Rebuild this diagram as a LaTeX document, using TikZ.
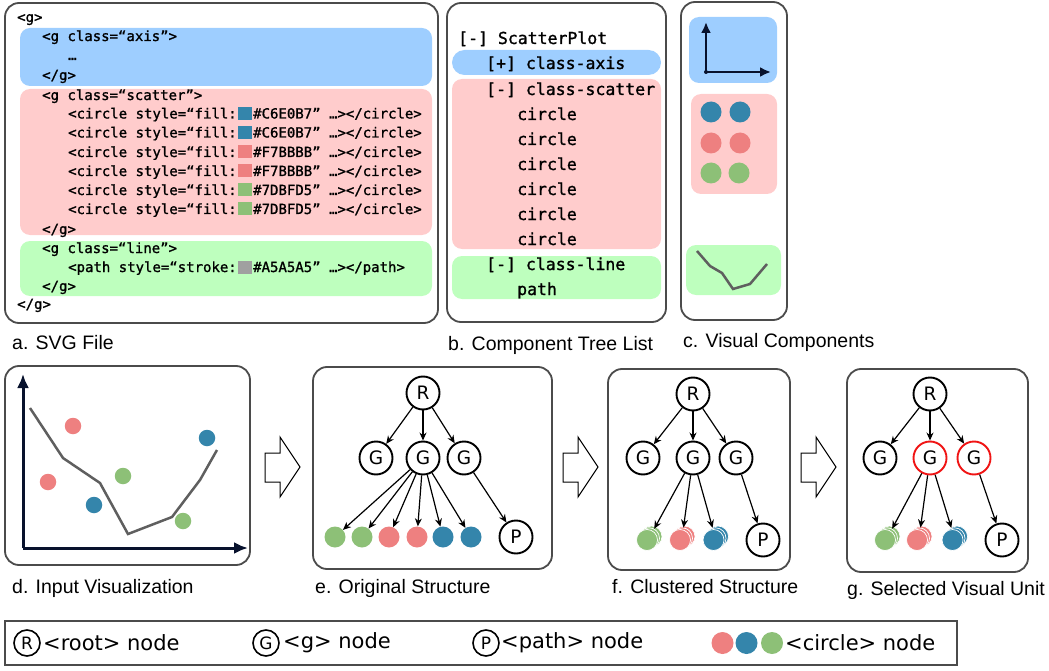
\documentclass[tikz,border=0pt]{standalone}
\usepackage{fontspec}
\setmainfont{Liberation Sans}
\newfontfamily\codefont[FakeBold=1.2]{DejaVu Sans Mono}
\newfontfamily\labelfont{DejaVu Sans}
\usetikzlibrary{arrows.meta}

\definecolor{axisblue}{RGB}{158,206,255}
\definecolor{scatterpink}{RGB}{255,204,204}
\definecolor{linegreen}{RGB}{190,255,190}
\definecolor{dotblue}{RGB}{52,133,171}
\definecolor{dotred}{RGB}{238,128,128}
\definecolor{dotgreen}{RGB}{141,192,119}
\definecolor{swgray}{RGB}{160,160,160}
\definecolor{framegray}{RGB}{75,75,75}
\definecolor{axisnavy}{RGB}{8,18,45}
\definecolor{polygray}{RGB}{95,95,95}
\definecolor{selred}{RGB}{240,20,20}

\begin{document}
\begin{tikzpicture}[x=1pt,y=-1pt,
  panel/.style={draw=framegray, line width=1.8pt, rounded corners=14pt},
  band/.style={rounded corners=10pt},
  codeA/.style={anchor=base west, inner sep=0pt, font=\codefont\fontsize{14}{14}\selectfont},
  codeB/.style={anchor=base west, inner sep=0pt, font=\codefont\fontsize{16.5}{16.5}\selectfont},
  caption/.style={anchor=west, inner sep=0pt, font=\fontsize{19.5}{19.5}\selectfont},
  legtext/.style={anchor=west, inner sep=0pt, font=\labelfont\fontsize{21}{21}\selectfont},
  tnode/.style={circle, draw, line width=1.9pt, minimum size=33pt, inner sep=0pt, fill=white,
    font=\labelfont\fontsize{18.5}{18.5}\selectfont},
  selnode/.style={tnode, draw=selred},
  legnode/.style={circle, draw, line width=1.6pt, minimum size=26pt, inner sep=0pt,
    font=\labelfont\fontsize{17}{17}\selectfont},
  dot/.style={circle, fill=#1, minimum size=21pt, inner sep=0pt},
  smalldot/.style={circle, fill=#1, minimum size=16.5pt, inner sep=0pt},
  layer/.style={circle, fill=#1, draw=white, line width=0.7pt, minimum size=21pt, inner sep=0pt},
  edge/.style={-{Stealth[length=8pt,width=7pt]}, line width=1.2pt},
  hollow/.style={draw=black, line width=1pt, fill=white},
  plotaxis/.style={draw=axisnavy, line width=3pt, -{Latex[length=14pt,width=12pt]}},
  smallaxis/.style={draw=axisnavy, line width=2.3pt, line cap=round, -{Latex[length=11pt,width=10pt]}},
  polyline/.style={draw=polygray, line width=2.5pt},
]
\useasboundingbox (0,0) rectangle (1049,671);

% ---------------- a. SVG file ----------------
\draw[panel] (5,3) rectangle (438,323);
\fill[axisblue, band] (20,28) rectangle (432,86);
\fill[scatterpink, band] (20,89) rectangle (432,235);
\fill[linegreen, band] (20,241) rectangle (432,296);

\node[codeA] (a0) at (17,22) {<g>};
\node[codeA] (a1) at (42,41) {<g class=“axis”>};
\node[codeA] (a2) at (68,60) {…};
\node[codeA] (a3) at (42,80) {</g>};
\node[codeA] (a4) at (42,100) {<g class=“scatter”>};

\node[codeA] (c1p) at (68,118.5) {<circle style=“fill:};
\fill[dotblue] (238.3,107) rectangle (251.7,120);
\node[codeA] (c1h) at (253,118.5) {\#C6E0B7” …></circle>};
\node[codeA] (c2p) at (68,137.5) {<circle style=“fill:};
\fill[dotblue] (238.3,126) rectangle (251.7,139);
\node[codeA] (c2h) at (253,137.5) {\#C6E0B7” …></circle>};
\node[codeA] (c3p) at (68,157) {<circle style=“fill:};
\fill[dotred] (238.3,145.5) rectangle (251.7,158.5);
\node[codeA] (c3h) at (253,157) {\#F7BBBB” …></circle>};
\node[codeA] (c4p) at (68,176) {<circle style=“fill:};
\fill[dotred] (238.3,164.5) rectangle (251.7,177.5);
\node[codeA] (c4h) at (253,176) {\#F7BBBB” …></circle>};
\node[codeA] (c5p) at (68,195) {<circle style=“fill:};
\fill[dotgreen] (238.3,183.5) rectangle (251.7,196.5);
\node[codeA] (c5h) at (253,195) {\#7DBFD5” …></circle>};
\node[codeA] (c6p) at (68,214) {<circle style=“fill:};
\fill[dotgreen] (238.3,202.5) rectangle (251.7,215.5);
\node[codeA] (c6h) at (253,214) {\#7DBFD5” …></circle>};

\node[codeA] (a11) at (42,234) {</g>};
\node[codeA] (a12) at (42,253) {<g class=“line”>};
\node[codeA] (pp) at (68,272) {<path style=“stroke:};
\fill[swgray] (238.3,260.5) rectangle (251.7,273.5);
\node[codeA] (ph) at (253,272) {\#A5A5A5” …></path>};
\node[codeA] (a14) at (42,291) {</g>};
\node[codeA] (a15) at (17,309) {</g>};

\node[caption] (capa) at (12,343) {a. SVG File};

% ---------------- b. component tree list ----------------
\draw[panel] (447,3) rectangle (666,322);
\fill[axisblue, rounded corners=12.5pt] (452,50) rectangle (661,75);
\fill[scatterpink, band] (452,79) rectangle (661,249);
\fill[linegreen, band] (452,256) rectangle (661,299);

\node[codeB] (b0) at (458,44) {[-] ScatterPlot};
\node[codeB] (b1) at (486,69) {[+] class-axis};
\node[codeB] (b2) at (486,95) {[-] class-scatter};
\node[codeB] (b3) at (517,120) {circle};
\node[codeB] (b4) at (517,145) {circle};
\node[codeB] (b5) at (517,170) {circle};
\node[codeB] (b6) at (517,195) {circle};
\node[codeB] (b7) at (517,220) {circle};
\node[codeB] (b8) at (517,245) {circle};
\node[codeB] (b9) at (486,270) {[-] class-line};
\node[codeB] (b10) at (517,295) {path};

\node[caption] (capb) at (448,345) {b. Component Tree List};

% ---------------- c. visual components ----------------
\draw[panel] (681,2) rectangle (787,320);
\fill[axisblue, band] (689,17) rectangle (777,83);
\fill[scatterpink, band] (691,94) rectangle (777,194);
\fill[linegreen, band] (686,245) rectangle (781,295);

\coordinate (cO) at (706,72);
\coordinate (cY) at (706,22);
\coordinate (cX) at (771,72);
\draw[smallaxis] (cO) -- (cY);
\draw[smallaxis] (cO) -- (cX);
\fill[axisnavy] (cO) circle (2pt);

\node[dot=dotblue] (vb1) at (711,112) {};
\node[dot=dotblue] (vb2) at (740,112) {};
\node[dot=dotred] (vr1) at (711,143) {};
\node[dot=dotred] (vr2) at (740,143) {};
\node[dot=dotgreen] (vg1) at (711,173) {};
\node[dot=dotgreen] (vg2) at (739,173) {};

\draw[polyline] (697,251) -- (710,266) -- (722,273) -- (733,289) -- (750,284) -- (767,264);

\node[caption] (capc) at (683,342) {c. Visual Components};

% ---------------- d. input visualization ----------------
\draw[panel] (5,366) rectangle (250,565);
\coordinate (dO) at (23,548);
\coordinate (dY) at (23,374);
\coordinate (dX) at (248,548);
\draw[plotaxis] (dO) -- (dY);
\draw[plotaxis] (dO) -- (dX);
\draw[polyline] (30,408) -- (63,458) -- (100,483) -- (128,534) -- (172,517) -- (200,480) -- (217,450);
\node[smalldot=dotred] (dr1) at (73,426) {};
\node[smalldot=dotred] (dr2) at (48,482) {};
\node[smalldot=dotblue] (db1) at (94,505) {};
\node[smalldot=dotgreen] (dg1) at (123,476) {};
\node[smalldot=dotblue] (db2) at (207,438) {};
\node[smalldot=dotgreen] (dg2) at (183,521) {};

\node[caption] (capd) at (12,588) {d. Input Visualization};

% ---------------- step arrows ----------------
\foreach \x in {265,563,801} {
  \draw[hollow] (\x,453) -- (\x+15,453) -- (\x+15,437) -- (\x+35,467)
    -- (\x+15,497) -- (\x+15,482) -- (\x,482) -- cycle;
}

% ---------------- e. original structure ----------------
\draw[panel] (313,367) rectangle (552,569);
\node[tnode] (eR) at (423,393) {R};
\node[tnode] (eG1) at (376,458) {G};
\node[tnode] (eG2) at (423,458) {G};
\node[tnode] (eG3) at (464,458) {G};
\node[dot=dotgreen] (ec1) at (335,537) {};
\node[dot=dotgreen] (ec2) at (362,537) {};
\node[dot=dotred] (ec3) at (389,537) {};
\node[dot=dotred] (ec4) at (417,537) {};
\node[dot=dotblue] (ec5) at (443,537) {};
\node[dot=dotblue] (ec6) at (471,537) {};
\node[tnode] (eP) at (516,537) {P};
\draw[edge] (eR) -- (eG1);
\draw[edge] (eR) -- (eG2);
\draw[edge] (eR) -- (eG3);
\foreach \c in {ec1,ec2,ec3,ec4,ec5,ec6} { \draw[edge] (eG2) -- (\c); }
\draw[edge] (eG3) -- (eP);

\node[caption] (cape) at (315,588) {e. Original Structure};

% ---------------- f. clustered structure ----------------
\draw[panel] (608,369) rectangle (790,570);
\node[tnode] (fR) at (693,394) {R};
\node[tnode] (fG1) at (643,458) {G};
\node[tnode] (fG2) at (693,458) {G};
\node[tnode] (fG3) at (736,458) {G};
\node[layer=dotgreen] (fgb) at (651.5,536.5) {};
\node[layer=dotgreen] (fgm) at (649,538.3) {};
\node[layer=dotgreen] (fg) at (647,540) {};
\node[layer=dotred] (frb) at (684.5,536.5) {};
\node[layer=dotred] (frm) at (682,538.3) {};
\node[layer=dotred] (fr) at (680,540) {};
\node[layer=dotblue] (fbb) at (718,536.5) {};
\node[layer=dotblue] (fbm) at (715.5,538.3) {};
\node[layer=dotblue] (fb) at (713.5,540) {};
\node[tnode] (fP) at (763,540) {P};
\draw[edge] (fR) -- (fG1);
\draw[edge] (fR) -- (fG2);
\draw[edge] (fR) -- (fG3);
\draw[edge] (fG2) -- (fgm);
\draw[edge] (fG2) -- (frm);
\draw[edge] (fG2) -- (fbm);
\draw[edge] (fG3) -- (fP);

\node[caption] (capf) at (612,587) {f. Clustered Structure};

% ---------------- g. selected visual unit ----------------
\draw[panel] (847,369) rectangle (1028,572);
\node[tnode] (gR) at (930,394) {R};
\node[tnode] (gG1) at (880,458) {G};
\node[selnode] (gG2) at (930,458) {G};
\node[selnode] (gG3) at (974,458) {G};
\node[layer=dotgreen] (ggb) at (889.5,536.5) {};
\node[layer=dotgreen] (ggm) at (887,538.3) {};
\node[layer=dotgreen] (gg) at (885,540) {};
\node[layer=dotred] (grb) at (921.5,536.5) {};
\node[layer=dotred] (grm) at (919,538.3) {};
\node[layer=dotred] (gr) at (917,540) {};
\node[layer=dotblue] (gbb) at (957,536.5) {};
\node[layer=dotblue] (gbm) at (954.5,538.3) {};
\node[layer=dotblue] (gb) at (952.5,540) {};
\node[tnode] (gP) at (1002,540) {P};
\draw[edge] (gR) -- (gG1);
\draw[edge] (gR) -- (gG2);
\draw[edge] (gR) -- (gG3);
\draw[edge] (gG2) -- (ggm);
\draw[edge] (gG2) -- (grm);
\draw[edge] (gG2) -- (gbm);
\draw[edge] (gG3) -- (gP);

\node[caption] (capg) at (847,590) {g. Selected Visual Unit};

% ---------------- legend ----------------
\draw[draw=framegray, line width=1.8pt] (5,621) rectangle (957,665);
\node[legnode] (lR) at (27,643) {R};
\node[legtext] (lRt) at (43,643) {<root> node};
\node[legnode] (lG) at (266,643) {G};
\node[legtext] (lGt) at (283,643) {<g> node};
\node[legnode] (lP) at (486,643) {P};
\node[legtext] (lPt) at (501,643) {<path> node};
\node[dot=dotred, minimum size=22pt] (lc1) at (722.5,643) {};
\node[dot=dotblue, minimum size=22pt] (lc2) at (746.5,643) {};
\node[dot=dotgreen, minimum size=22pt] (lc3) at (772,643) {};
\node[legtext] (lCt) at (785,643) {<circle> node};
\end{tikzpicture}
\end{document}
